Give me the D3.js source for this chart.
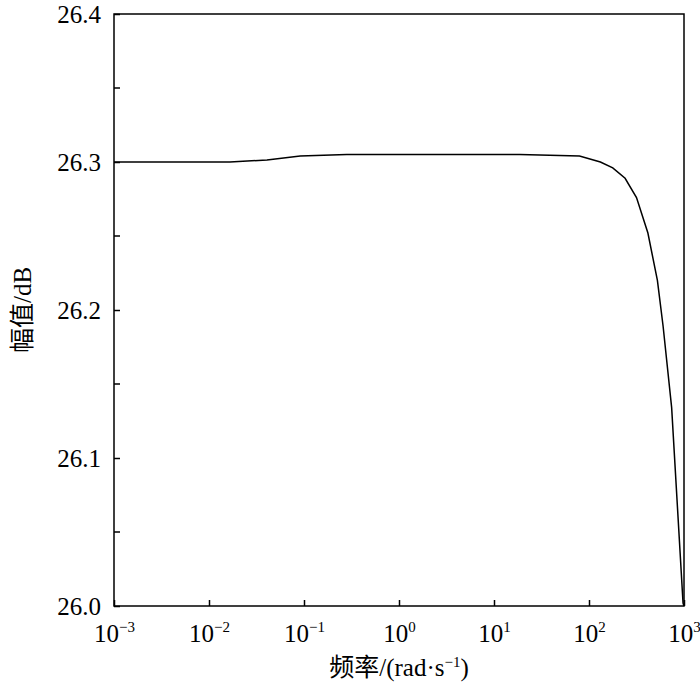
<!DOCTYPE html>
<html>
<head>
<meta charset="utf-8">
<script src="https://cdn.jsdelivr.net/npm/d3@7"></script>
<style>
  body { margin: 0; background: #fff; }
  text { font-family: "Liberation Serif", "Noto Sans CJK SC", serif; fill: #000; }
</style>
</head>
<body>
<div id="chart"></div>
<script>
// frequency (log10 rad/s) and magnitude (dB)
const logFreq = [-3, -1.78, -1.39, -1.04, -0.55, 1.27, 1.9, 2.12, 2.25, 2.38, 2.5, 2.62, 2.72, 2.78, 2.87, 2.99, 3];
const magDb = [26.3, 26.3, 26.3014, 26.304, 26.305, 26.305, 26.304, 26.3, 26.296, 26.289, 26.276, 26.252, 26.22, 26.189, 26.134, 26.002, 26.0];
const xExponents = [-3, -2, -1, 0, 1, 2, 3];
const yTicks = [26.0, 26.1, 26.2, 26.3, 26.4];
const yMinorTicks = [26.05, 26.15, 26.25, 26.35];

const width = 700, height = 687;
const margin = { top: 14, right: 16, bottom: 81, left: 114 };

const svg = d3.select('#chart')
  .append('svg')
    .attr('width', width)
    .attr('height', height);

const x = d3.scaleLog()
  .domain([1e-3, 1e3])
  .range([margin.left, width - margin.right]);

const y = d3.scaleLinear()
  .domain([26.0, 26.4])
  .range([height - margin.bottom, margin.top]);

// frame
svg.append('rect')
  .attr('x', margin.left)
  .attr('y', margin.top)
  .attr('width', width - margin.right - margin.left)
  .attr('height', height - margin.bottom - margin.top)
  .attr('fill', 'none')
  .attr('stroke', '#000')
  .attr('stroke-width', 1.5);

// x axis
const xAxis = svg.append('g')
  .attr('transform', `translate(0,${height - margin.bottom})`)
  .call(d3.axisBottom(x)
    .tickValues(xExponents.map(e => Math.pow(10, e)))
    .tickSize(-6)
    .tickSizeOuter(0)
    .tickPadding(0)
    .tickFormat(''));
xAxis.select('.domain').remove();
xAxis.selectAll('line').attr('stroke-width', 1.5);
xAxis.selectAll('.tick').each(function(d, i) {
  const t = d3.select(this).append('text')
    .attr('y', 36)
    .attr('text-anchor', 'middle')
    .style('font-size', '25px');
  t.append('tspan').text('10');
  const e = xExponents[i];
  t.append('tspan')
    .attr('dy', -10)
    .style('font-size', '15px')
    .text(e < 0 ? '\u2212' + Math.abs(e) : e);
});

// y axis
const yAxis = svg.append('g')
  .attr('transform', `translate(${margin.left},0)`)
  .call(d3.axisLeft(y)
    .tickValues(yTicks)
    .tickSize(-6)
    .tickSizeOuter(0)
    .tickPadding(13)
    .tickFormat(d3.format('.1f')));
yAxis.select('.domain').remove();
yAxis.selectAll('line').attr('stroke-width', 1.5);
yAxis.selectAll('text')
  .style('font-size', '25px')
  .style('font-family', '"Liberation Serif", serif')
  .attr('dy', '0.35em');

svg.append('g')
  .selectAll('line')
  .data(yMinorTicks)
  .join('line')
    .attr('x1', margin.left)
    .attr('x2', margin.left + 6)
    .attr('y1', d => y(d))
    .attr('y2', d => y(d))
    .attr('stroke', '#000')
    .attr('stroke-width', 1.5);

// curve
const line = d3.line()
  .x((d, i) => x(Math.pow(10, d)))
  .y((d, i) => y(magDb[i]));

svg.append('path')
  .datum(logFreq)
  .attr('d', line)
  .attr('fill', 'none')
  .attr('stroke', '#000')
  .attr('stroke-width', 1.5);

// axis titles
svg.append('text')
  .attr('x', (margin.left + width - margin.right) / 2)
  .attr('y', 676)
  .attr('text-anchor', 'middle')
  .style('font-size', '25px')
  .call(t => {
    t.append('tspan').text('频率/(rad·s');
    t.append('tspan').attr('dy', -9).style('font-size', '15px').text('\u22121');
    t.append('tspan').attr('dy', 9).text(')');
  });

svg.append('text')
  .attr('transform', `translate(31,${(margin.top + height - margin.bottom) / 2}) rotate(-90)`)
  .attr('text-anchor', 'middle')
  .style('font-size', '25px')
  .text('幅值/dB');
</script>
</body>
</html>
